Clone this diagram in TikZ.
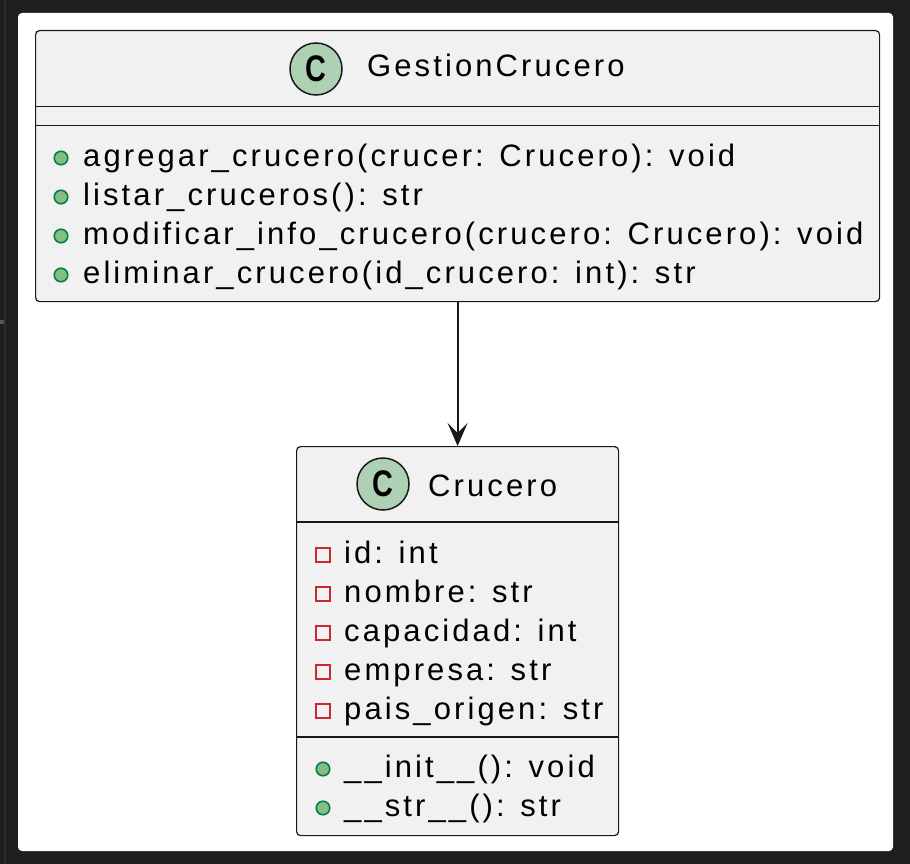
\documentclass[tikz,border=0pt]{standalone}
\usepackage{fontspec}
\setmainfont{Liberation Sans}[LetterSpace=10]
\newfontfamily\spotfont{Liberation Sans}
\usetikzlibrary{arrows.meta}
\definecolor{bgdark}{HTML}{1E1E21}
\definecolor{stripe}{HTML}{2C2C30}
\definecolor{boxfill}{HTML}{F1F1F1}
\definecolor{boxline}{HTML}{181818}
\definecolor{spotfill}{HTML}{ADD1B2}
\definecolor{pubfill}{HTML}{84BE84}
\definecolor{publine}{HTML}{038048}
\definecolor{privline}{HTML}{C82930}
\tikzset{
  classbox/.style={draw=boxline, fill=boxfill, line width=1.2pt, rounded corners=4pt, inner sep=0pt, anchor=north west},
  sepline/.style={draw=boxline, line width=1.1pt},
  spot/.style={circle, draw=boxline, fill=spotfill, line width=1.5pt, minimum size=52pt, inner sep=0pt},
  spotletter/.style={font=\spotfont\bfseries\fontsize{37}{37}\selectfont, xscale=0.78, inner sep=0pt},
  titletext/.style={font=\fontsize{31}{36}\selectfont, anchor=base west, inner sep=0pt},
  member/.style={font=\fontsize{31}{36}\selectfont, anchor=base west, inner sep=0pt},
  pub/.style={circle, draw=publine, fill=pubfill, line width=1.6pt, minimum size=13.5pt, inner sep=0pt},
  priv/.style={rectangle, draw=privline, line width=1.7pt, minimum size=14pt, inner sep=0pt},
  assoc/.style={draw=boxline, line width=1.8pt, -{Stealth[length=23pt,width=20pt,inset=10pt]}}
}
\begin{document}
\begin{tikzpicture}[x=1pt,y=-1pt]
\useasboundingbox (0,0) rectangle (910,864);
\fill[bgdark] (0,0) rectangle (910,864);
\fill[stripe] (4,0) rectangle (6,864);
\fill[stripe!80!white] (0,320) rectangle (4,324);
\fill[white, rounded corners=4pt] (18,13) rectangle (893,851);

% GestionCrucero
\node[classbox, minimum width=844pt, minimum height=271pt] (gc) at (35,30) {};
\draw[sepline] (35,106.5) -- (879,106.5);
\draw[sepline] (35,125.7) -- (879,125.7);
\node[spot] (gcs) at (316,69) {};
\node[spotletter] (gcl) at (gcs.center) {C};
\node[titletext] (gct) at (367,77) {GestionCrucero};
\node[pub] (gb1) at (61,158) {};
\node[pub] (gb2) at (61,197) {};
\node[pub] (gb3) at (61,236) {};
\node[pub] (gb4) at (61,275) {};
\node[member] (gm1) at (83,166.5) {agregar\_crucero(crucer: Crucero): void};
\node[member] (gm2) at (83,205.5) {listar\_cruceros(): str};
\node[member] (gm3) at (83,244.5) {modificar\_info\_crucero(crucero: Crucero): void};
\node[member] (gm4) at (83,283.5) {eliminar\_crucero(id\_crucero: int): str};

% Crucero
\node[classbox, minimum width=322pt, minimum height=389pt] (cr) at (296,446) {};
\draw[sepline] (296,522) -- (618,522);
\draw[sepline] (296,737) -- (618,737);
\node[spot] (crs) at (383,484) {};
\node[spotletter] (crl) at (crs.center) {C};
\node[titletext] (crt) at (428,496) {Crucero};
\node[priv] (ca1) at (323,555) {};
\node[priv] (ca2) at (323,594) {};
\node[priv] (ca3) at (323,633) {};
\node[priv] (ca4) at (323,672) {};
\node[priv] (ca5) at (323,711) {};
\node[member] (cat1) at (344,563) {id: int};
\node[member] (cat2) at (344,602) {nombre: str};
\node[member] (cat3) at (344,641) {capacidad: int};
\node[member] (cat4) at (344,680) {empresa: str};
\node[member] (cat5) at (344,719) {pais\_origen: str};
\node[pub] (cb1) at (323,769) {};
\node[pub] (cb2) at (323,808) {};
\node[member] (cm1) at (344,777) {\_\_init\_\_(): void};
\node[member] (cm2) at (344,816) {\_\_str\_\_(): str};

\draw[assoc] (gc.south) -- (cr.north);
\end{tikzpicture}
\end{document}
